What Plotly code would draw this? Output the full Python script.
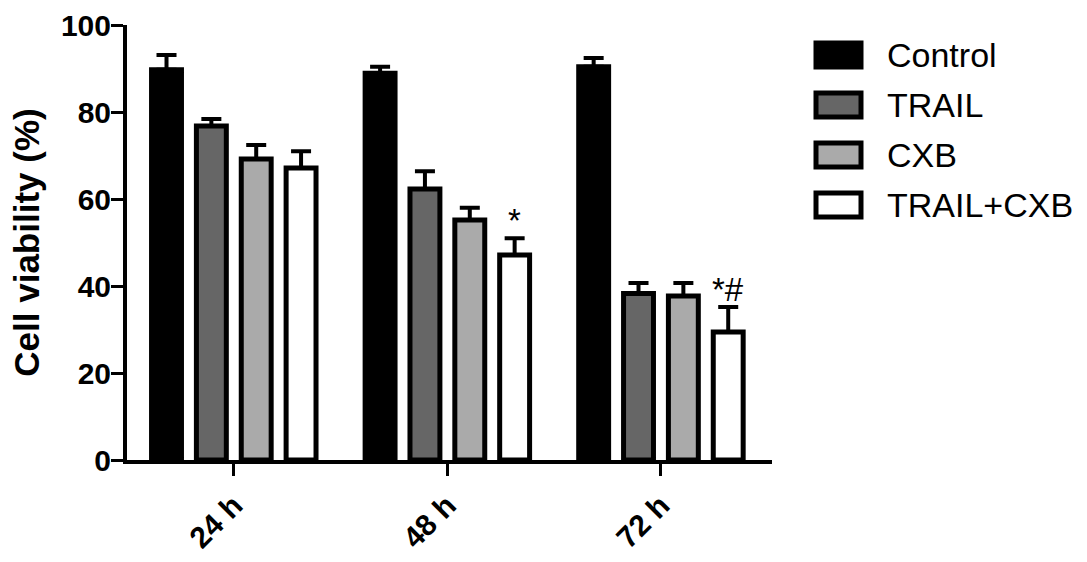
import plotly.graph_objects as go

# ---- data ----
time_points = ["24 h", "48 h", "72 h"]
series_names = ["Control", "TRAIL", "CXB", "TRAIL+CXB"]
control_vals = [89.7, 88.9, 90.4]
trail_vals = [76.8, 62.3, 38.3]
cxb_vals = [69.2, 55.2, 37.7]
combo_vals = [67.1, 47.1, 29.4]
control_err = [3.4, 1.5, 2.0]
trail_err = [1.6, 4.1, 2.4]
cxb_err = [3.2, 2.8, 3.0]
combo_err = [3.9, 3.9, 5.8]
significance_marks = ["", "*", "*#"]
y_ticks = [0, 20, 40, 60, 80, 100]

values = [control_vals, trail_vals, cxb_vals, combo_vals]
errors = [control_err, trail_err, cxb_err, combo_err]
fills = ["#000000", "#666666", "#aaaaaa", "#ffffff"]

FONT = "Arial, Liberation Sans, sans-serif"
BARGAP = 0.16
BARGROUPGAP = 0.333
n_series = len(series_names)

fig = go.Figure()
for name, vals, errs, col in zip(series_names, values, errors, fills):
    fig.add_trace(go.Bar(
        x=time_points, y=vals, name=name,
        marker=dict(color=col, line=dict(color="black", width=5)),
        error_y=dict(type="data", symmetric=False, array=errs,
                     arrayminus=[0] * len(errs), color="black",
                     thickness=4, width=10),
        showlegend=False,
    ))

# significance marks above the combination bars
slot = (1 - BARGAP) / n_series
combo_offset = (n_series - 1 - (n_series - 1) / 2) * slot
for i, mark in enumerate(significance_marks):
    if mark:
        fig.add_annotation(
            x=i + combo_offset, y=combo_vals[i] + combo_err[i],
            xref="x", yref="y", text=mark, showarrow=False,
            yanchor="bottom", yshift=-3, xshift=0,
            font=dict(family=FONT, size=33, color="black"),
        )

# legend drawn as boxes + labels on the right
plot_l, plot_r, plot_t, plot_b = 127, 315, 25, 102
W, H = 1087, 562
pw = W - plot_l - plot_r
ph = H - plot_t - plot_b
def px_to_paper_x(px):
    return (px - plot_l) / pw
def px_to_paper_y(py):
    return (H - plot_b - py) / ph

row_centers = [55, 105, 155, 205]
for name, col, yc in zip(series_names, fills, row_centers):
    fig.add_shape(type="rect", xref="paper", yref="paper",
                  x0=px_to_paper_x(816), x1=px_to_paper_x(861),
                  y0=px_to_paper_y(yc + 12), y1=px_to_paper_y(yc - 12),
                  fillcolor=col, line=dict(color="black", width=5))
    fig.add_annotation(xref="paper", yref="paper",
                       x=px_to_paper_x(885), y=px_to_paper_y(yc),
                       text=name, showarrow=False, xanchor="left",
                       yanchor="middle",
                       font=dict(family=FONT, size=34, color="black"))

fig.update_layout(
    width=W, height=H,
    margin=dict(l=plot_l, r=plot_r, t=plot_t, b=plot_b, autoexpand=False),
    barmode="group", bargap=BARGAP, bargroupgap=BARGROUPGAP,
    plot_bgcolor="white", paper_bgcolor="white",
    font=dict(family=FONT, color="black"),
)
fig.update_xaxes(
    range=[-0.5, 2.52], showgrid=False, zeroline=False, automargin=False,
    showline=True, linecolor="black", linewidth=4,
    ticks="outside", ticklen=12, tickwidth=3, tickcolor="black",
    tickangle=-45,
    tickfont=dict(family=FONT, size=30, color="black", weight="bold"),
)
fig.update_yaxes(
    range=[0, 100], tickvals=y_ticks, showgrid=False, zeroline=False,
    automargin=False,
    showline=True, linecolor="black", linewidth=4,
    ticks="outside", ticklen=12, tickwidth=3, tickcolor="black",
    ticklabelstandoff=-6,
    tickfont=dict(family=FONT, size=30, color="black", weight="bold"),
    title=dict(text="Cell viability (%)", standoff=12,
               font=dict(family=FONT, size=35, color="black", weight="bold")),
)

fig.write_html(
    "out.html",
    config={"displayModeBar": False},
    post_script="document.body.style.margin='0';document.body.style.overflow='hidden';",
)
